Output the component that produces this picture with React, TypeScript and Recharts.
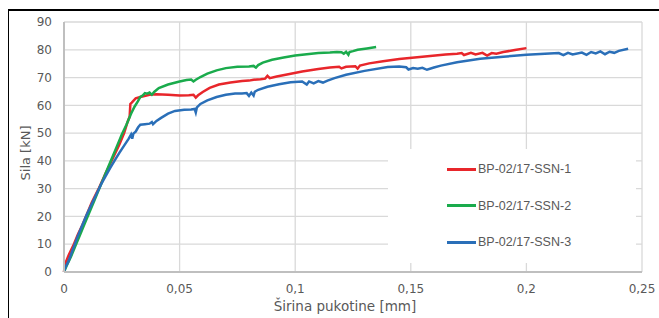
import { LineChart, Line, XAxis, YAxis, CartesianGrid, Legend } from "recharts";

document.body.style.margin = "0";

const xTicks = [0, 0.05, 0.1, 0.15, 0.2, 0.25];
const yTicks = [0, 10, 20, 30, 40, 50, 60, 70, 80, 90];

const ssn1X = [0, 0.0003, 0.002, 0.004, 0.006, 0.008, 0.01, 0.012, 0.015, 0.018, 0.02, 0.022, 0.024, 0.026, 0.0275, 0.0284, 0.0287, 0.0293, 0.031, 0.033, 0.037, 0.04, 0.045, 0.05, 0.054, 0.056, 0.057, 0.058, 0.06, 0.063, 0.067, 0.072, 0.077, 0.08, 0.082, 0.085, 0.087, 0.088, 0.089, 0.092, 0.097, 0.103, 0.11, 0.115, 0.119, 0.12, 0.122, 0.126, 0.127, 0.128, 0.132, 0.138, 0.145, 0.155, 0.165, 0.17, 0.172, 0.173, 0.176, 0.178, 0.181, 0.183, 0.185, 0.187, 0.19, 0.195, 0.2];
const ssn1Y = [0, 2.5, 6, 9.5, 13.5, 17, 21, 25, 30, 35.5, 39, 42.5, 46, 50, 54, 56, 60.5, 61, 62.5, 63, 63.8, 64, 63.8, 63.5, 63.6, 63.8, 62.8, 63.6, 64.8, 66.3, 67.5, 68.2, 68.8, 68.9, 69.2, 69.4, 69.6, 70.6, 69.8, 70.4, 71.2, 72.2, 73.1, 73.6, 73.9, 73.3, 73.9, 74.1, 73.2, 74.3, 75.1, 75.9, 76.7, 77.5, 78.3, 78.6, 78.8, 78.1, 78.9, 78.3, 78.9, 77.9, 78.8, 78.6, 79.2, 79.9, 80.6];

const ssn2X = [0, 0.001, 0.003, 0.005, 0.007, 0.009, 0.011, 0.013, 0.015, 0.017, 0.019, 0.021, 0.023, 0.025, 0.027, 0.029, 0.0305, 0.032, 0.033, 0.034, 0.035, 0.036, 0.037, 0.038, 0.039, 0.041, 0.045, 0.05, 0.053, 0.055, 0.056, 0.057, 0.059, 0.062, 0.066, 0.07, 0.075, 0.08, 0.082, 0.083, 0.084, 0.086, 0.09, 0.095, 0.1, 0.105, 0.11, 0.115, 0.118, 0.12, 0.121, 0.122, 0.123, 0.1235, 0.125, 0.127, 0.131, 0.135];
const ssn2Y = [0, 2, 5.5, 9.5, 13.5, 17.5, 21.5, 25.5, 29.5, 33.5, 37.5, 41.5, 45.5, 49.5, 53, 57, 59.5, 61.5, 63, 63.5, 64.4, 64.2, 64.6, 63.8, 64.8, 66.2, 67.5, 68.6, 69.1, 69.3, 68.6, 69.2, 70.2, 71.4, 72.6, 73.4, 73.9, 74, 74.2, 73.6, 74.5, 75.4, 76.4, 77.2, 77.9, 78.4, 78.8, 79, 79.2, 79.1, 78.6, 79.3, 78.2, 79.2, 79.5, 80, 80.5, 81];

const ssn3X = [0, 0.0005, 0.002, 0.004, 0.006, 0.008, 0.01, 0.012, 0.014, 0.016, 0.018, 0.02, 0.022, 0.024, 0.026, 0.028, 0.029, 0.0295, 0.03, 0.031, 0.032, 0.033, 0.035, 0.037, 0.038, 0.0385, 0.04, 0.042, 0.045, 0.048, 0.052, 0.055, 0.0565, 0.057, 0.0575, 0.059, 0.062, 0.066, 0.07, 0.074, 0.077, 0.079, 0.08, 0.081, 0.082, 0.0825, 0.084, 0.088, 0.093, 0.098, 0.103, 0.105, 0.106, 0.108, 0.11, 0.112, 0.114, 0.117, 0.122, 0.13, 0.14, 0.145, 0.148, 0.149, 0.151, 0.153, 0.155, 0.157, 0.16, 0.163, 0.17, 0.18, 0.19, 0.2, 0.21, 0.214, 0.216, 0.218, 0.22, 0.224, 0.226, 0.228, 0.23, 0.232, 0.234, 0.236, 0.238, 0.24, 0.244];
const ssn3Y = [0, 1.5, 4, 8.5, 13, 17, 21, 24.5, 28, 31.5, 34.5, 37.5, 40.3, 43, 45.5, 48, 49.5, 48, 49.8, 50.5, 52, 53, 53.2, 53.4, 54, 53.2, 54.4, 55.5, 57, 58, 58.4, 58.5, 58.7, 57.4, 59.3, 60.5, 61.8, 63, 63.8, 64.3, 64.3, 64.4, 63.4, 64.6, 63.5, 64.9, 65.6, 66.7, 67.6, 68.3, 68.6, 67.5, 68.6, 67.9, 68.7, 68.2, 68.9, 69.8, 71, 72.4, 73.8, 74, 73.7, 72.9, 73.4, 73.2, 73.5, 72.8, 73.6, 74.3, 75.5, 76.8, 77.5, 78.2, 78.7, 78.8, 78.1, 78.9, 78.3, 79, 78.2, 79.2, 78.7, 79.4, 78.4, 79.3, 78.9, 79.6, 80.4];

const toPoints = (xs: number[], ys: number[]) => xs.map((x, i) => ({ x, y: ys[i] }));

const series = [
  { name: "BP-02/17-SSN-1", color: "#e8262b", data: toPoints(ssn1X, ssn1Y) },
  { name: "BP-02/17-SSN-2", color: "#1aab4c", data: toPoints(ssn2X, ssn2Y) },
  { name: "BP-02/17-SSN-3", color: "#2a6fb8", data: toPoints(ssn3X, ssn3Y) },
];

const textColor = "#595959";
const font = "'DejaVu Sans', Verdana, sans-serif";

function renderLegend() {
  return (
    <div style={{ width: 248, height: 114, background: "#fff", position: "relative" }}>
      {series.map((s, i) => (
        <div
          key={s.name}
          style={{ position: "absolute", left: 59, top: 13 + i * 36.7, height: 14, display: "flex", alignItems: "center" }}
        >
          <span style={{ display: "inline-block", width: 29, height: 3, background: s.color, marginRight: 2 }} />
          <span style={{ fontFamily: "'Liberation Sans', Arial, sans-serif", fontSize: 12.5, color: textColor, whiteSpace: "nowrap" }}>
            {s.name}
          </span>
        </div>
      ))}
    </div>
  );
}

export default function App() {
  return (
    <div style={{ position: "relative", width: 659, height: 318, overflow: "hidden" }}>
      <div style={{ position: "absolute", left: 8, top: 9, width: 651, height: 2, background: "#000", zIndex: 2 }} />
      <div style={{ position: "absolute", left: 8, top: 9, width: 1, height: 309, background: "#000", zIndex: 2 }} />
      <LineChart width={659} height={318} margin={{ top: 22, right: 17, bottom: 0, left: 8 }}>
        <CartesianGrid stroke="#d9d9d9" strokeWidth={1.3} />
        <XAxis
          type="number"
          dataKey="x"
          domain={[0, 0.25]}
          ticks={xTicks}
          tickFormatter={(v: number) => String(v).replace(".", ",")}
          height={46}
          tickLine={false}
          tickSize={6}
          tickMargin={6}
          axisLine={{ stroke: "#bfbfbf", strokeWidth: 2 }}
          tick={{ fill: textColor, fontSize: 12, fontFamily: font }}
          label={{ value: "Širina pukotine [mm]", position: "insideBottom", offset: 7, dx: -8, fill: textColor, fontSize: 13.5, fontFamily: font }}
        />
        <YAxis
          type="number"
          dataKey="y"
          domain={[0, 90]}
          ticks={yTicks}
          width={56}
          tickLine={false}
          tickSize={6}
          tickMargin={6}
          axisLine={{ stroke: "#bfbfbf", strokeWidth: 2 }}
          tick={{ fill: textColor, fontSize: 12, fontFamily: font }}
          label={{ value: "Sila [kN]", angle: -90, position: "center", dx: -11, dy: 6, fill: textColor, fontSize: 13, fontFamily: font }}
        />
        <Legend
          content={renderLegend}
          layout="horizontal"
          verticalAlign="middle"
          align="center"
          wrapperStyle={{ left: 388, top: 149, width: 248, height: 114 }}
        />
        {series.map((s) => (
          <Line
            key={s.name}
            data={s.data}
            dataKey="y"
            name={s.name}
            type="linear"
            stroke={s.color}
            strokeWidth={2.5}
            dot={false}
            isAnimationActive={false}
          />
        ))}
      </LineChart>
    </div>
  );
}
